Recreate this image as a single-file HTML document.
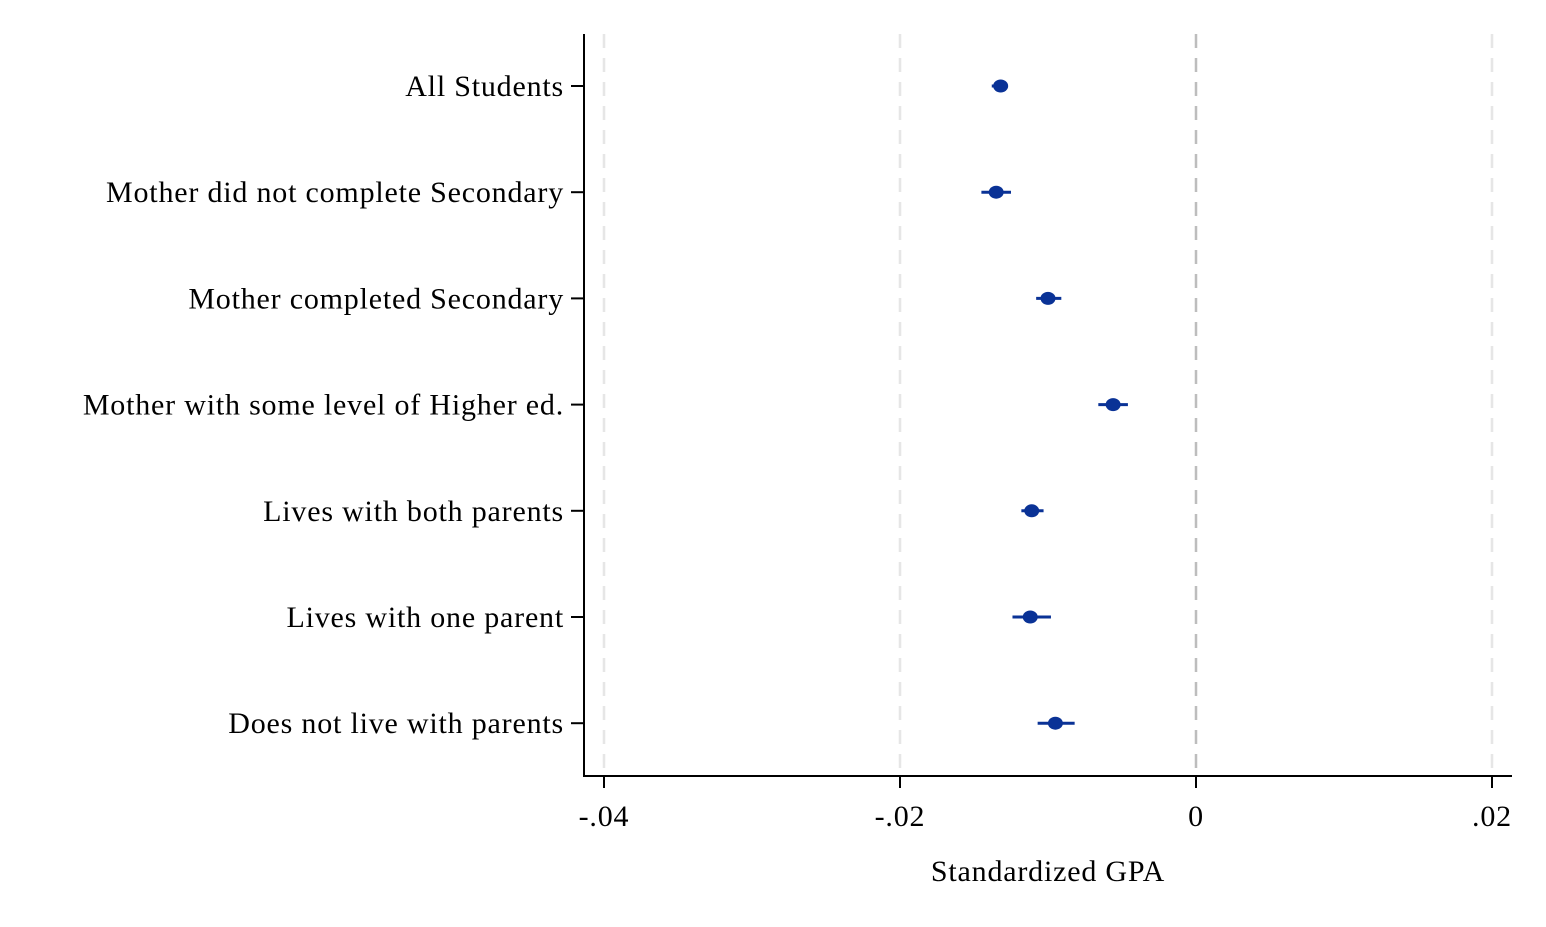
<!DOCTYPE html>
<html><head><meta charset="utf-8"><style>
html,body{margin:0;padding:0;background:#fff;}
svg{display:block;font-family:"Liberation Serif",serif;}
svg text{letter-spacing:0.8px;}
</style></head><body>
<svg id="chart" width="1546" height="927" viewBox="0 0 1546 927">
<g id="grid"></g><g id="axes"></g><g id="marks"></g>
<text x="1048" y="881" font-size="30" text-anchor="middle" fill="#000">Standardized GPA</text>
</svg>
<script>
const categories = ["All Students","Mother did not complete Secondary","Mother completed Secondary","Mother with some level of Higher ed.","Lives with both parents","Lives with one parent","Does not live with parents"];
const estimates = [-0.0132,-0.0135,-0.0100,-0.0056,-0.0111,-0.0112,-0.0095];
const ciLow = [-0.0138,-0.0145,-0.0108,-0.0066,-0.0118,-0.0124,-0.0107];
const ciHigh = [-0.0127,-0.0125,-0.0091,-0.0046,-0.0103,-0.0098,-0.0082];
const xTicks = [-0.04,-0.02,0,0.02];
const xTickLabels = ["-.04","-.02","0",".02"];
const NS="http://www.w3.org/2000/svg";
const x = v => 1196 + v*14800;
const y = i => 86 + i*106.2;
function mk(tag, attrs, parent){const e=document.createElementNS(NS,tag);for(const k in attrs)e.setAttribute(k,attrs[k]);parent.appendChild(e);return e;}
const grid=document.getElementById('grid'), axes=document.getElementById('axes'), marks=document.getElementById('marks');
xTicks.forEach((t,i)=>{
  const g=mk('line',{x1:x(t),x2:x(t),y1:34,y2:776,stroke:t===0?'#bdbdbd':'#e6e6e6','stroke-width':2.5,'stroke-dasharray':'14,10'},grid);
  
  
  const tk=mk('line',{x1:x(t),x2:x(t),y1:776,y2:788,stroke:'#000','stroke-width':2},axes);
  
  
  const tl=mk('text',{x:x(t),y:826,'font-size':30,'text-anchor':'middle',fill:'#000'},axes);
  tl.textContent=xTickLabels[i];
  
  
});
const ya=mk('line',{x1:584,x2:584,y1:34,y2:777,stroke:'#000','stroke-width':2},axes);


const xa=mk('line',{x1:583,x2:1512,y1:776,y2:776,stroke:'#000','stroke-width':2},axes);


categories.forEach((c,i)=>{
  const tk=mk('line',{x1:571,x2:584,y1:y(i),y2:y(i),stroke:'#000','stroke-width':2},axes);
  
  
  const tl=mk('text',{x:564,y:y(i)+10,'font-size':30,'text-anchor':'end',fill:'#000'},axes);
  tl.textContent=c;
  
  
  const ci=mk('line',{x1:x(ciLow[i]),x2:x(ciHigh[i]),y1:y(i),y2:y(i),stroke:'#0a3296','stroke-width':3},marks);
  
  
  const p=mk('ellipse',{cx:x(estimates[i]),cy:y(i),rx:7.5,ry:6.5,fill:'#0a3296'},marks);
  
  
});
</script>
</body></html>
